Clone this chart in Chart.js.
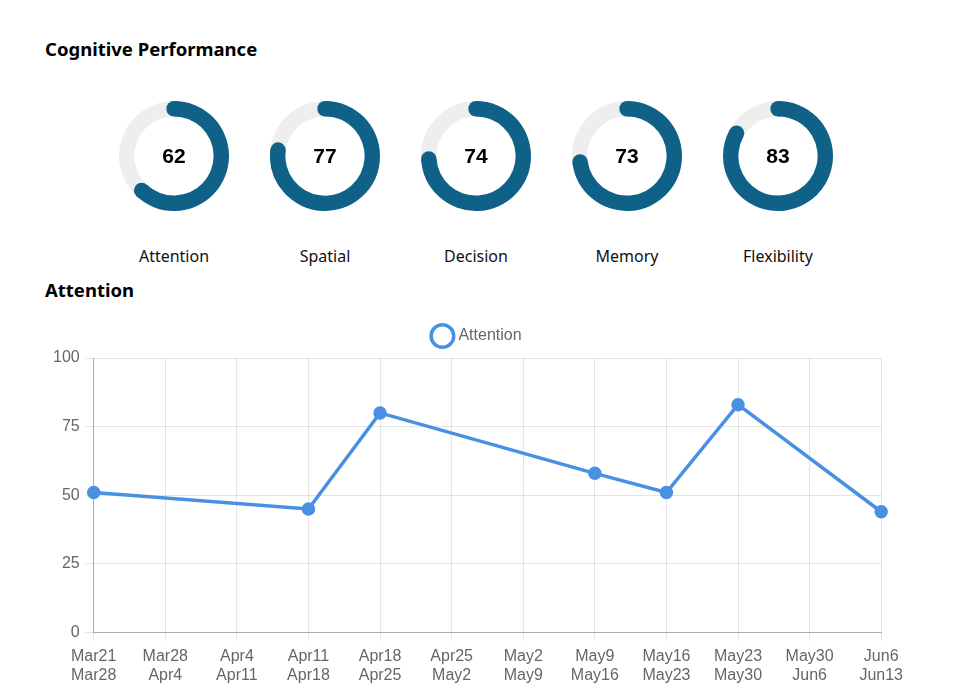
<!DOCTYPE html>
<html>
<head>
<meta charset="utf-8">
<title>Cognitive Performance</title>
<script src="https://cdn.jsdelivr.net/npm/chart.js@4/dist/chart.umd.min.js"></script>
<style>
    body { margin: 0; background: #fff; width: 960px; height: 697px; overflow: hidden; position: relative; font-family: "Noto Sans", Lato, sans-serif; }
    h2 { position: absolute; left: 45px; margin: 0; font-size: 18.5px; font-weight: bold; color: #000; line-height: 24px; }
    .gauge { position: absolute; top: 101px; width: 151px; height: 170px; text-align: center; }
    .gauge canvas { display: block; margin: 0 auto; }
    .gauge .value { position: absolute; left: 0; right: 0; top: 43px; font: bold 21px "Liberation Sans", Arial, sans-serif; color: #000; line-height: 24px; }
    .gauge .name { position: absolute; left: 0; right: 0; top: 144px; font-size: 16px; color: #111; line-height: 22px; }
    #trend-wrap { position: absolute; left: 47px; top: 314px; width: 862px; height: 377px; }
</style>
</head>
<body>

<h2 style="top: 37px;">Cognitive Performance</h2>
<div id="gauges"></div>
<h2 style="top: 278px;">Attention</h2>
<div id="trend-wrap"><canvas id="trendChart"></canvas></div>

<script>
// Scores
const domains = ['Attention', 'Spatial', 'Decision', 'Memory', 'Flexibility'];
const domainScores = [62, 77, 74, 73, 83];

// Weekly attention
const weekStarts = ['Mar21', 'Mar28', 'Apr4', 'Apr11', 'Apr18', 'Apr25', 'May2', 'May9', 'May16', 'May23', 'May30', 'Jun6'];
const weekEnds   = ['Mar28', 'Apr4', 'Apr11', 'Apr18', 'Apr25', 'May2', 'May9', 'May16', 'May23', 'May30', 'Jun6', 'Jun13'];
const attentionScores = [51, null, null, 45, 80, null, null, 58, 51, 83, null, 44];

const TEAL = '#0f6187';
const TRACK = '#eeeeee';
const BLUE = '#4a90e2';
const TICK_FONT = { family: '"Liberation Sans", Arial, sans-serif', size: 16 };

// round ends on the score arc
const roundCaps = {
    id: 'roundCaps',
    afterDatasetsDraw(chart) {
        const arc = chart.getDatasetMeta(0).data[0];
        if (!arc) return;
        const { x, y, startAngle, endAngle, innerRadius, outerRadius } =
            arc.getProps(['x', 'y', 'startAngle', 'endAngle', 'innerRadius', 'outerRadius'], true);
        const r = (innerRadius + outerRadius) / 2;
        const w = (outerRadius - innerRadius) / 2;
        const ctx = chart.ctx;
        ctx.save();
        ctx.fillStyle = TEAL;
        [startAngle, endAngle].forEach(a => {
            ctx.beginPath();
            ctx.arc(x + r * Math.cos(a), y + r * Math.sin(a), w, 0, Math.PI * 2);
            ctx.fill();
        });
        ctx.restore();
    }
};

// a bit more room under the legend
const legendGap = {
    id: 'legendGap',
    beforeInit(chart) {
        const fit = chart.legend.fit;
        chart.legend.fit = function () {
            fit.call(this);
            this.height += 4;
        };
    }
};

const gauges = document.getElementById('gauges');
domains.forEach((name, i) => {
    const box = document.createElement('div');
    box.className = 'gauge';
    box.style.left = (174 + 151 * i - 75.5) + 'px';
    box.innerHTML = `
        <canvas width="110" height="110" style="width:110px;height:110px"></canvas>
        <div class="value">${domainScores[i]}</div>
        <div class="name">${name}</div>
    `;
    gauges.appendChild(box);

    new Chart(box.querySelector('canvas'), {
        type: 'doughnut',
        data: {
            labels: [name, ''],
            datasets: [{
                data: [domainScores[i], 100 - domainScores[i]],
                backgroundColor: [TEAL, TRACK],
                borderWidth: 0
            }]
        },
        options: {
            responsive: false,
            animation: false,
            cutout: '72%',
            events: [],
            plugins: { legend: { display: false }, tooltip: { enabled: false } }
        },
        plugins: [roundCaps]
    });
});

// Attention trend
new Chart(document.getElementById('trendChart'), {
    type: 'line',
    data: {
        labels: weekStarts.map((s, i) => [s, weekEnds[i]]),
        datasets: [{
            label: 'Attention',
            data: attentionScores,
            borderColor: BLUE,
            backgroundColor: '#ffffff',
            pointBackgroundColor: BLUE,
            pointBorderColor: BLUE,
            borderWidth: 3.5,
            pointRadius: 5,
            tension: 0,
            spanGaps: true,
            fill: false
        }]
    },
    options: {
        responsive: true,
        maintainAspectRatio: false,
        animation: false,
        events: [],
        plugins: {
            legend: {
                labels: {
                    usePointStyle: true,
                    pointStyle: 'circle',
                    padding: 14,
                    color: '#666',
                    font: TICK_FONT,
                    generateLabels(chart) {
                        const items = Chart.defaults.plugins.legend.labels.generateLabels(chart);
                        items.forEach(it => { it.fillStyle = '#ffffff'; it.strokeStyle = BLUE; it.lineWidth = 3.5; });
                        return items;
                    }
                }
            },
            tooltip: { enabled: false }
        },
        scales: {
            x: {
                grid: { color: 'rgba(0,0,0,0.1)' },
                border: { color: 'rgba(0,0,0,0.25)' },
                ticks: { color: '#666', autoSkip: false, maxRotation: 0, padding: 6, font: TICK_FONT }
            },
            y: {
                min: 0,
                max: 100,
                grid: { color: 'rgba(0,0,0,0.1)' },
                border: { color: 'rgba(0,0,0,0.25)' },
                ticks: { stepSize: 25, color: '#666', padding: 6, font: TICK_FONT }
            }
        }
    },
    plugins: [legendGap]
});
</script>
</body>
</html>
